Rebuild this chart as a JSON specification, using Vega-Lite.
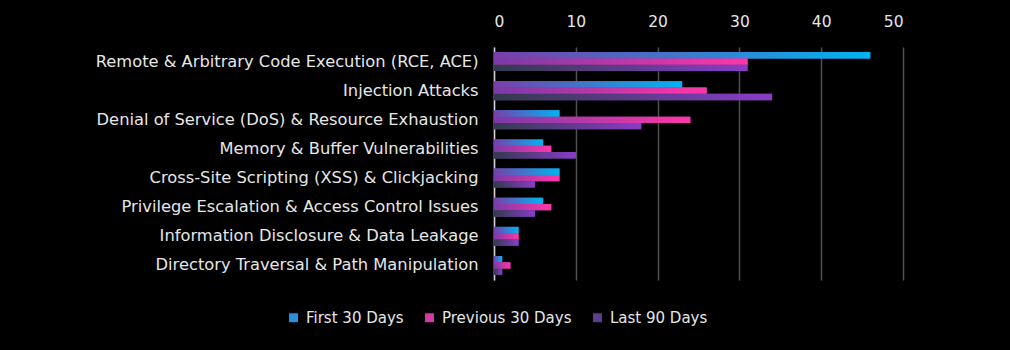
{
  "$schema": "https://vega.github.io/schema/vega-lite/v6.json",
  "width": 409,
  "height": 233,
  "autosize": "none",
  "padding": {"left": 494, "top": 47, "right": 107, "bottom": 70},
  "background": "#000000",
  "config": {
    "view": {"stroke": null},
    "font": "DejaVu Sans",
    "axis": {"labelFont": "DejaVu Sans", "labelColor": "#E6E6E6", "labelFontSize": 16.3},
    "legend": {"labelFont": "DejaVu Sans", "labelColor": "#E6E6E6", "labelFontSize": 15}
  },
  "data": {
    "values": [
      {"category": "Remote & Arbitrary Code Execution (RCE, ACE)", "series": "First 30 Days", "value": 46},
      {"category": "Remote & Arbitrary Code Execution (RCE, ACE)", "series": "Previous 30 Days", "value": 31},
      {"category": "Remote & Arbitrary Code Execution (RCE, ACE)", "series": "Last 90 Days", "value": 31},
      {"category": "Injection Attacks", "series": "First 30 Days", "value": 23},
      {"category": "Injection Attacks", "series": "Previous 30 Days", "value": 26},
      {"category": "Injection Attacks", "series": "Last 90 Days", "value": 34},
      {"category": "Denial of Service (DoS) & Resource Exhaustion", "series": "First 30 Days", "value": 8},
      {"category": "Denial of Service (DoS) & Resource Exhaustion", "series": "Previous 30 Days", "value": 24},
      {"category": "Denial of Service (DoS) & Resource Exhaustion", "series": "Last 90 Days", "value": 18},
      {"category": "Memory & Buffer Vulnerabilities", "series": "First 30 Days", "value": 6},
      {"category": "Memory & Buffer Vulnerabilities", "series": "Previous 30 Days", "value": 7},
      {"category": "Memory & Buffer Vulnerabilities", "series": "Last 90 Days", "value": 10},
      {"category": "Cross-Site Scripting (XSS) & Clickjacking", "series": "First 30 Days", "value": 8},
      {"category": "Cross-Site Scripting (XSS) & Clickjacking", "series": "Previous 30 Days", "value": 8},
      {"category": "Cross-Site Scripting (XSS) & Clickjacking", "series": "Last 90 Days", "value": 5},
      {"category": "Privilege Escalation & Access Control Issues", "series": "First 30 Days", "value": 6},
      {"category": "Privilege Escalation & Access Control Issues", "series": "Previous 30 Days", "value": 7},
      {"category": "Privilege Escalation & Access Control Issues", "series": "Last 90 Days", "value": 5},
      {"category": "Information Disclosure & Data Leakage", "series": "First 30 Days", "value": 3},
      {"category": "Information Disclosure & Data Leakage", "series": "Previous 30 Days", "value": 3},
      {"category": "Information Disclosure & Data Leakage", "series": "Last 90 Days", "value": 3},
      {"category": "Directory Traversal & Path Manipulation", "series": "First 30 Days", "value": 1},
      {"category": "Directory Traversal & Path Manipulation", "series": "Previous 30 Days", "value": 2},
      {"category": "Directory Traversal & Path Manipulation", "series": "Last 90 Days", "value": 1}
    ]
  },
  "encoding": {
    "y": {
      "field": "category", "type": "nominal", "sort": null, "title": null,
      "scale": {"paddingInner": 0.35, "paddingOuter": 0.175},
      "axis": {"ticks": false, "domain": true, "domainColor": "#D0D0D0", "domainWidth": 1.5, "labelPadding": 16, "labelLimit": 500, "grid": false}
    },
    "yOffset": {
      "field": "series", "type": "nominal",
      "scale": {"domain": ["First 30 Days", "Previous 30 Days", "Last 90 Days"], "paddingInner": 0, "paddingOuter": 0}
    },
    "x": {
      "field": "value", "type": "quantitative", "title": null,
      "scale": {"domain": [0, 50]},
      "axis": {"orient": "top", "values": [0, 10, 20, 30, 40, 50], "ticks": false, "domain": false, "grid": true, "gridColor": "#505050", "gridWidth": 1.5, "labelPadding": 18, "labelFontSize": 15.5}
    }
  },
  "layer": [
    {
      "mark": {"type": "bar"},
      "encoding": {
        "color": {
          "field": "series", "type": "nominal", "title": null,
          "scale": {"domain": ["First 30 Days", "Previous 30 Days", "Last 90 Days"], "range": ["#2A8FE0", "#D63AA6", "#5B3F8E"]},
          "legend": {"orient": "none", "direction": "horizontal", "legendX": -208, "legendY": 263, "symbolType": "square", "symbolSize": 80, "columnPadding": 18, "labelOffset": 5}
        }
      }
    },
    {
      "transform": [{"filter": "datum.series === 'First 30 Days'"}],
      "mark": {"type": "bar", "fill": {"gradient": "linear", "x1": 0, "y1": 0, "x2": 1, "y2": 0, "stops": [{"offset": 0, "color": "#7A3EAA"}, {"offset": 1, "color": "#00B4F2"}]}}
    },
    {
      "transform": [{"filter": "datum.series === 'Previous 30 Days'"}],
      "mark": {"type": "bar", "fill": {"gradient": "linear", "x1": 0, "y1": 0, "x2": 1, "y2": 0, "stops": [{"offset": 0, "color": "#7A3AA8"}, {"offset": 1, "color": "#FF36A8"}]}}
    },
    {
      "transform": [{"filter": "datum.series === 'Last 90 Days'"}],
      "mark": {"type": "bar", "fill": {"gradient": "linear", "x1": 0, "y1": 0, "x2": 1, "y2": 0, "stops": [{"offset": 0, "color": "#333A4E"}, {"offset": 1, "color": "#8A3CC8"}]}}
    }
  ]
}
